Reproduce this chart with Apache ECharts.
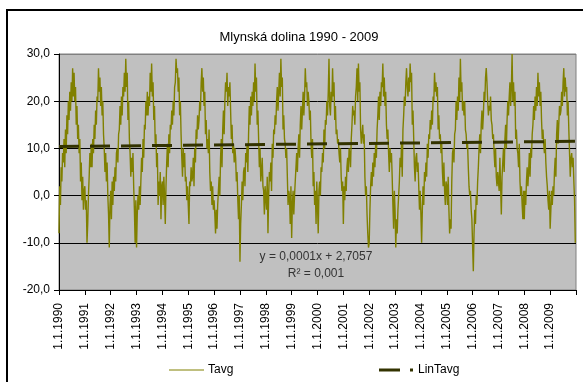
<!DOCTYPE html>
<html><head><meta charset="utf-8">
<script src="https://cdn.jsdelivr.net/npm/echarts@6/dist/echarts.min.js"></script>
<style>html,body{margin:0;padding:0;background:#fff}#c{width:583px;height:382px}</style>
</head><body><div id="c"></div>
<script>
// ---- data (~10-day samples, 36 per year) ----
const years = [1990,1991,1992,1993,1994,1995,1996,1997,1998,1999,2000,2001,2002,2003,2004,2005,2006,2007,2008,2009];
const xTickLabels = ['1.1.1990','1.1.1991','1.1.1992','1.1.1993','1.1.1994','1.1.1995','1.1.1996','1.1.1997','1.1.1998','1.1.1999','1.1.2000','1.1.2001','1.1.2002','1.1.2003','1.1.2004','1.1.2005','1.1.2006','1.1.2007','1.1.2008','1.1.2009'];
const t1990 = [-8,2,-2, 6,3,9, 7,12,6, 14,9,17, 13,20,16, 22,18,24, 20,27,21, 26,20,23, 15,19,12, 15,9,12, 3,7,-1, 4,-3,1];
const t1991 = [2,-3,-1, -10,-6,0, 4,9,6, 11,6,12, 9,15,12, 18,15,21, 20,27,22, 25,19,23, 17,20,13, 10,5,9, 3,7,0, -4,-11,-2];
const t1992 = [1,-5,3, -2,4,1, 6,3,9, 10,7,13, 14,19,15, 21,17,23, 21,26,22, 29,23,26, 16,20,12, 9,4,8, 5,9,2, -3,-10,-1];
const t1993 = [-11,-4,0, -3,2,-2, 3,8,5, 12,8,15, 14,20,17, 22,17,21, 19,26,22, 28,21,24, 16,19,11, 13,6,9, -2,3,0, 5,-5,2];
const t1994 = [3,-2,4, 0,-6,2, 7,11,6, 13,9,15, 14,18,15, 20,17,23, 24,29,26, 27,22,25, 17,20,13, 8,4,10, 6,9,3, 4,-1,2];
const t1995 = [-2,-6,3, 2,6,3, 4,8,2, 10,7,14, 12,17,14, 16,20,18, 24,27,22, 25,19,22, 13,16,10, 12,9,14, 5,1,3, -2,2,-3];
const t1996 = [-1,-4,-8, -3,-7,-2, 1,4,0, 8,12,6, 14,18,13, 20,24,22, 26,19,23, 21,24,18, 12,15,9, 11,7,10, 8,3,5, -1,-5,0];
const t1997 = [-14,-6,-2, 3,-1,5, 6,2,9, 7,11,5, 13,19,15, 21,17,22, 19,24,20, 28,22,25, 15,18,12, 6,10,3, 5,8,2, 1,-4,2];
const t1998 = [2,-3,4, -8,0,5, 3,7,1, 11,8,14, 13,17,15, 20,23,18, 22,26,21, 29,23,25, 14,17,12, 11,8,10, 4,-2,1, 0,-6,2];
const t1999 = [-9,-2,1, -4,0,3, 6,9,5, 10,13,8, 15,19,14, 18,22,17, 21,27,23, 24,19,22, 20,16,18, 11,8,12, 2,5,-2, 1,-6,3];
const t2000 = [-2,-8,1, 3,0,6, 5,9,7, 14,10,16, 15,20,17, 22,29,19, 17,22,20, 27,21,24, 16,19,13, 14,11,12, 9,7,10, 4,1,3];
const t2001 = [-6,2,-1, 4,1,6, 8,5,10, 9,6,12, 15,19,17, 18,15,21, 23,27,20, 28,22,24, 14,11,13, 15,11,13, 4,0,2, -4,-8,-11];
const t2002 = [-10,-3,2, 5,2,7, 4,9,6, 11,8,14, 17,21,16, 22,19,24, 23,28,21, 25,19,22, 15,12,14, 9,5,10, 7,9,4, -2,-7,1];
const t2003 = [-3,-11,-5, -8,-3,0, 3,8,6, 11,4,14, 17,21,19, 24,27,23, 21,25,22, 28,24,26, 15,18,12, 6,3,8, 9,5,7, 2,-3,1];
const t2004 = [-4,-10,-3, 2,-2,5, 3,7,4, 11,8,13, 12,16,14, 18,15,21, 20,26,22, 24,21,23, 14,17,12, 13,9,11, 5,2,7, 1,-2,3];
const t2005 = [2,-2,4, -3,-8,-5, -7,3,9, 10,7,13, 14,20,16, 21,18,25, 20,29,22, 24,18,20, 17,20,14, 13,10,11, 6,2,0, 1,-3,-5];
const t2006 = [-5,-16,-8, -3,-6,0, -2,3,6, 10,13,9, 15,18,14, 17,22,20, 25,27,24, 20,17,19, 18,21,16, 15,12,13, 9,6,10, 4,2,5];
const t2007 = [5,1,8, 2,-4,4, 7,10,5, 12,15,10, 16,20,17, 21,24,19, 23,30,20, 24,19,22, 12,14,10, 9,6,11, 3,0,2, -2,-5,1];
const t2008 = [-5,1,-2, 3,6,2, 5,9,4, 10,8,13, 15,19,16, 21,18,23, 19,26,21, 24,19,22, 16,12,14, 11,9,12, 7,4,2, -1,-3,1];
const t2009 = [-7,-3,1, -2,2,0, 5,8,4, 13,16,11, 15,19,17, 18,22,19, 24,27,21, 25,22,23, 17,20,14, 9,4,8, 9,6,8, 3,-1,-10];
const trendX = [1990, 2010];
const trendY = [10.4, 11.5];
const eqLine1 = 'y = 0,0001x + 2,7057';
const eqLine2 = 'R² = 0,001';
const titleText = 'Mlynská dolina 1990 - 2009';

const yearly = [t1990,t1991,t1992,t1993,t1994,t1995,t1996,t1997,t1998,t1999,t2000,t2001,t2002,t2003,t2004,t2005,t2006,t2007,t2008,t2009];
const tavgData = [];
yearly.forEach((arr, k) => arr.forEach((v, i) => tavgData.push([years[k] + i / arr.length, v])));
const trendData = trendX.map((x, i) => [x, trendY[i]]);

const FONT = '"Liberation Sans", Arial, sans-serif';
const chart = echarts.init(document.getElementById('c'), null, {renderer: 'canvas'});
chart.setOption({
  animation: false,
  backgroundColor: '#fff',
  textStyle: {fontFamily: FONT},
  grid: {left: 59, right: 7, top: 54, bottom: 92, show: true, backgroundColor: '#c0c0c0', borderColor: '#808080', borderWidth: 1},
  xAxis: {
    type: 'value', min: 1990, max: 2010, interval: 1,
    axisLine: {show: true, onZero: false, lineStyle: {color: '#000', width: 1}},
    axisTick: {show: true, length: 5, lineStyle: {color: '#000'}},
    splitLine: {show: false},
    axisLabel: {rotate: 90, margin: 13, fontSize: 12, color: '#000', fontFamily: FONT,
      formatter: v => { const i = years.indexOf(Math.round(v)); return (i >= 0 && Math.abs(v - years[i]) < 1e-6) ? xTickLabels[i] : ''; }}
  },
  yAxis: {
    type: 'value', min: -20, max: 30, interval: 10,
    axisLine: {show: true, lineStyle: {color: '#000', width: 1}},
    axisTick: {show: true, length: 5, lineStyle: {color: '#000'}},
    splitLine: {show: true, lineStyle: {color: ['#000','#000','#000','#000','#000','#808080'], width: 1}},
    axisLabel: {margin: 9, fontSize: 12, color: '#000', fontFamily: FONT, formatter: v => v.toFixed(1).replace('.', ',')}
  },
  series: [
    {name: 'Tavg', type: 'line', data: tavgData, symbol: 'none', showSymbol: false, sampling: null,
      lineStyle: {color: '#808000', width: 1.4}, z: 2},
    {name: 'LinTavg', type: 'line', data: trendData, symbol: 'none', showSymbol: false,
      lineStyle: {color: '#333300', width: 3, type: [20, 11]}, z: 3}
  ],
  graphic: [
    {type: 'rect', silent: true, z: 100, shape: {x: 7, y: 10, width: 640, height: 440}, style: {fill: null, stroke: '#000', lineWidth: 2}},
    {type: 'text', silent: true, x: 299, y: 37, style: {text: titleText, font: '13px ' + FONT, fill: '#000', textAlign: 'center', textVerticalAlign: 'middle', align: 'center', verticalAlign: 'middle'}},
    {type: 'text', silent: true, z: 50, x: 316, y: 257, style: {text: eqLine1, font: '12px ' + FONT, fill: '#333', textAlign: 'center', textVerticalAlign: 'middle', align: 'center', verticalAlign: 'middle'}},
    {type: 'text', silent: true, z: 50, x: 316, y: 274, style: {text: eqLine2, font: '12px ' + FONT, fill: '#333', textAlign: 'center', textVerticalAlign: 'middle', align: 'center', verticalAlign: 'middle'}},
    {type: 'line', silent: true, shape: {x1: 169, y1: 370, x2: 204, y2: 370}, style: {stroke: '#808000', lineWidth: 1}},
    {type: 'text', silent: true, x: 208, y: 370, style: {text: 'Tavg', font: '12px ' + FONT, fill: '#000', textAlign: 'left', textVerticalAlign: 'middle', align: 'left', verticalAlign: 'middle'}},
    {type: 'rect', silent: true, shape: {x: 379, y: 368.5, width: 21, height: 3}, style: {fill: '#333300'}},
    {type: 'rect', silent: true, shape: {x: 410, y: 368.5, width: 3, height: 3}, style: {fill: '#333300'}},
    {type: 'text', silent: true, x: 418, y: 370, style: {text: 'LinTavg', font: '12px ' + FONT, fill: '#000', textAlign: 'left', textVerticalAlign: 'middle', align: 'left', verticalAlign: 'middle'}}
  ]
});
</script></body></html>
